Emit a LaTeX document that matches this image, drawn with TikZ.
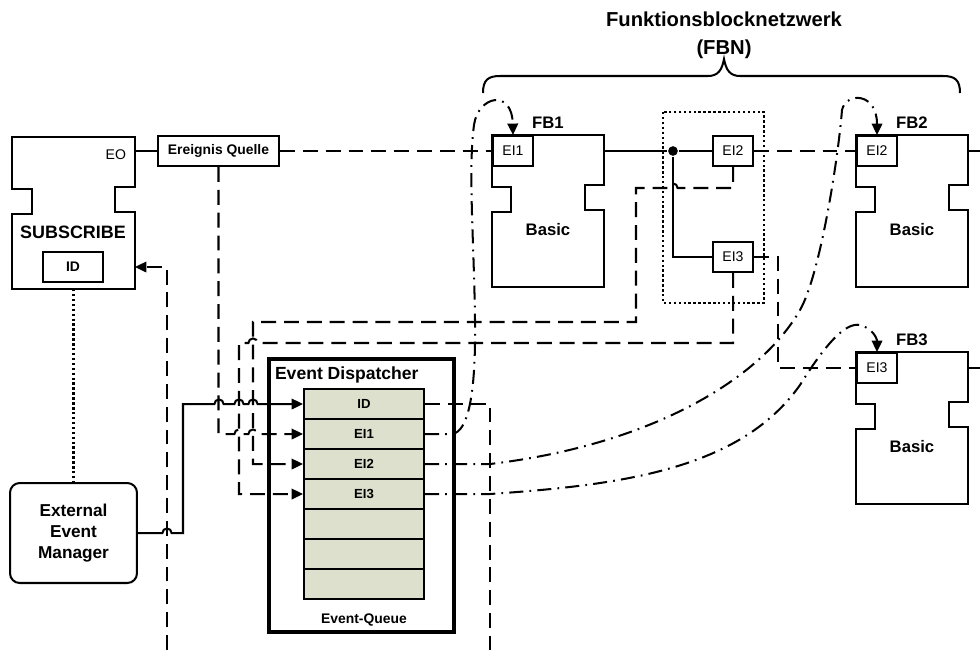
\documentclass[tikz,border=0pt]{standalone}
\usepackage{fontspec}
\setmainfont{Liberation Sans}
\usetikzlibrary{arrows.meta}
\definecolor{queuefill}{RGB}{221,224,204}

\begin{document}
\begin{tikzpicture}[
        x=0.02cm, y=-0.02cm, line width=1.15pt,
        body/.style={minimum width=2.2cm, minimum height=3cm, inner sep=0pt},
        ein/.style={draw, fill=white, minimum width=0.8cm, minimum height=0.6cm,
                    inner sep=0pt, font=\fontsize{8}{9}\selectfont},
        cell/.style={draw, fill=queuefill, minimum width=2.4cm, minimum height=0.6cm,
                     inner sep=0pt, font=\bfseries\fontsize{7.5}{8}\selectfont},
        box/.style={draw, fill=white, inner sep=0pt, minimum height=0.6cm,
                    font=\bfseries\fontsize{7.9}{9}\selectfont},
        tag/.style={font=\bfseries\fontsize{9.5}{11}\selectfont, inner sep=0pt},
        evline/.style={dash pattern=on 8.5pt off 4.5pt},
        ddline/.style={dash pattern=on 8pt off 3.5pt on 1pt off 3.5pt},
        dotline/.style={dash pattern=on 1.4pt off 1.4pt, line width=1.3pt},
        arr/.style={-{Triangle[length=6.5pt,width=6pt]}}
    ]
    \useasboundingbox (0,0) rectangle (980,650);

    % Titel und Klammer
    \node[align=center, font=\bfseries\fontsize{11.5}{16}\selectfont] (fbn) at (724,35)
        {Funktionsblocknetzwerk\\(FBN)};
    \draw (483,93) .. controls (483,80) and (488,76) .. (500,76) -- (708,76)
        .. controls (718,76) and (722,70) .. (724,59)
        .. controls (726,70) and (730,76) .. (740,76) -- (943,76)
        .. controls (955,76) and (960,80) .. (960,93);

    % Bausteine
    \node[body, minimum width=2.42cm] (sub) at (73.5,213) {};
    \node[body] (fb1) at (548,211) {};
    \node[body] (fb2) at (912,211) {};
    \node[body] (fb3) at (912,428) {};
    \foreach \n/\w in {sub/20, fb1/19, fb2/19, fb3/19}
        \draw (\n.north west) -- (\n.north east) -- ++(0,50) -- ++(-\w,0) -- ++(0,25)
            -- ++(\w,0) -- (\n.south east) -- (\n.south west) -- ++(0,-75) -- ++(\w,0)
            -- ++(0,-25) -- ++(-\w,0) -- cycle;

    \node[anchor=east, inner sep=0pt, font=\fontsize{8}{9}\selectfont] (eo) at (127,155) {EO};
    \node[tag, font=\bfseries\fontsize{10.2}{12}\selectfont] (sublbl) at (73,232) {SUBSCRIBE};
    \node[box, minimum width=1.2cm] (subid) at (73,267) {ID};
    \node[box, minimum width=2.42cm] (eq) at (218.5,151) {Ereignis Quelle};
    \node[draw, rounded corners=5.5pt, minimum width=2.54cm, minimum height=2cm, align=center,
          font=\bfseries\fontsize{9.8}{12}\selectfont] (eem) at (73.5,533) {External\\Event\\Manager};

    \foreach \n/\x/\y in {fb1/548/211, fb2/912/211, fb3/912/428} {
        \node[tag] (\n lbl) at (\x,\y-88) {\MakeUppercase{\n}};
        \node[tag] (\n basic) at (\x,\y+19) {Basic};
    }
    \node[ein] (ei1a) at (513,151) {EI1};
    \node[ein] (ei2a) at (733,151) {EI2};
    \node[ein] (ei3a) at (733,257) {EI3};
    \node[ein] (ei2b) at (877,151) {EI2};
    \node[ein] (ei3b) at (877,368) {EI3};
    \node[circle, fill, inner sep=0pt, minimum size=5.5pt] (dot) at (673,151) {};
    \draw[dotline] (663,112) rectangle (764,303);

    % Event Dispatcher mit Queue
    \node[draw, line width=2.3pt, minimum width=3.7cm, minimum height=5.46cm] (disp) at (361.5,495.5) {};
    \node[anchor=base west, inner sep=0pt, font=\bfseries\fontsize{10}{12}\selectfont] (displbl)
        at (274,379) {Event Dispatcher};
    \foreach \i/\t in {0/ID, 1/EI1, 2/EI2, 3/EI3, 4/, 5/, 6/}
        \node[cell] (q\i) at (364,{404+30*\i}) {\t};
    \node[anchor=base, inner sep=0pt, font=\bfseries\fontsize{7.9}{9}\selectfont] (qlbl)
        at (364,623) {Event-Queue};

    \coordinate (subin) at (167,650);
    \coordinate (idout) at (490,650);
    \coordinate (fb2out) at (980,151);
    \coordinate (fb3out) at (980,368);

    % Verbindungen im FBN
    \draw (eq.west -| sub.east) -- (eq.west);
    \draw (ei1a -| fb1.east) -- (dot) -- (ei2a.west);
    \draw (dot) |- (ei3a.west);
    \draw (ei2b -| fb2.east) -- (fb2out);
    \draw (ei3b -| fb3.east) -- (fb3out);
    \draw[evline] (eq.east) -- (ei1a.west);
    \draw[evline] (ei2a.east) -- (ei2b.west);
    \draw[evline] (ei3a.east) -- ++(24,0) |- (ei3b.west);
    \draw[dotline] (sub.south) -- (eem.north);
    \draw[evline, arr] (subin) |- (subid -| sub.east);

    % Ereignisse in die Queue
    \draw[arr] (eem.east) -- ([xshift=-2.6pt]167,533) arc[start angle=180, end angle=0, radius=2.6pt]
        -- (183,533) -- (183,404)
        -- ([xshift=-2.6pt]219,404) arc[start angle=180, end angle=0, radius=2.6pt]
        -- ([xshift=-2.6pt]239,404) arc[start angle=180, end angle=0, radius=2.6pt]
        -- ([xshift=-2.6pt]253,404) arc[start angle=180, end angle=0, radius=2.6pt]
        -- (q0.west);
    \draw[evline, arr] (eq.south) -- (eq.south |- q1.west)
        -- ([xshift=-2.6pt]239,434) arc[start angle=180, end angle=0, radius=2.6pt]
        -- ([xshift=-2.6pt]253,434) arc[start angle=180, end angle=0, radius=2.6pt]
        -- (q1.west);
    \draw[evline, arr] (ei2a.south) -- (733,188)
        -- ([xshift=2.6pt]673,188) arc[start angle=0, end angle=180, radius=2.6pt]
        -- (636,188) -- (636,322) -- (253,322) |- (q2.west);
    \draw[evline, arr] (ei3a.south) -- (733,343)
        -- ([xshift=2.6pt]253,343) arc[start angle=0, end angle=180, radius=2.6pt]
        -- (239,343) |- (q3.west);
    \draw[evline] (q0.east) -| (idout);

    % Weiterleitung an die Bausteine
    \draw[ddline, arr] (q1.east) -- (452,434) .. controls (468,432) and (476,395) .. (475,320)
        .. controls (474,240) and (468,170) .. (474,125)
        .. controls (478,96) and (512,88) .. (ei1a.north);
    \draw[ddline, arr] (q2.east) -- (490,464) .. controls (650,445) and (760,380) .. (800,310)
        .. controls (820,275) and (838,160) .. (842,110)
        .. controls (846,92) and (877,92) .. (ei2b.north);
    \draw[ddline, arr] (q3.east) -- (490,494) .. controls (620,485) and (740,470) .. (800,385)
        .. controls (825,345) and (845,322) .. (860,325)
        .. controls (872,328) and (877,338) .. (ei3b.north);
\end{tikzpicture}
\end{document}
